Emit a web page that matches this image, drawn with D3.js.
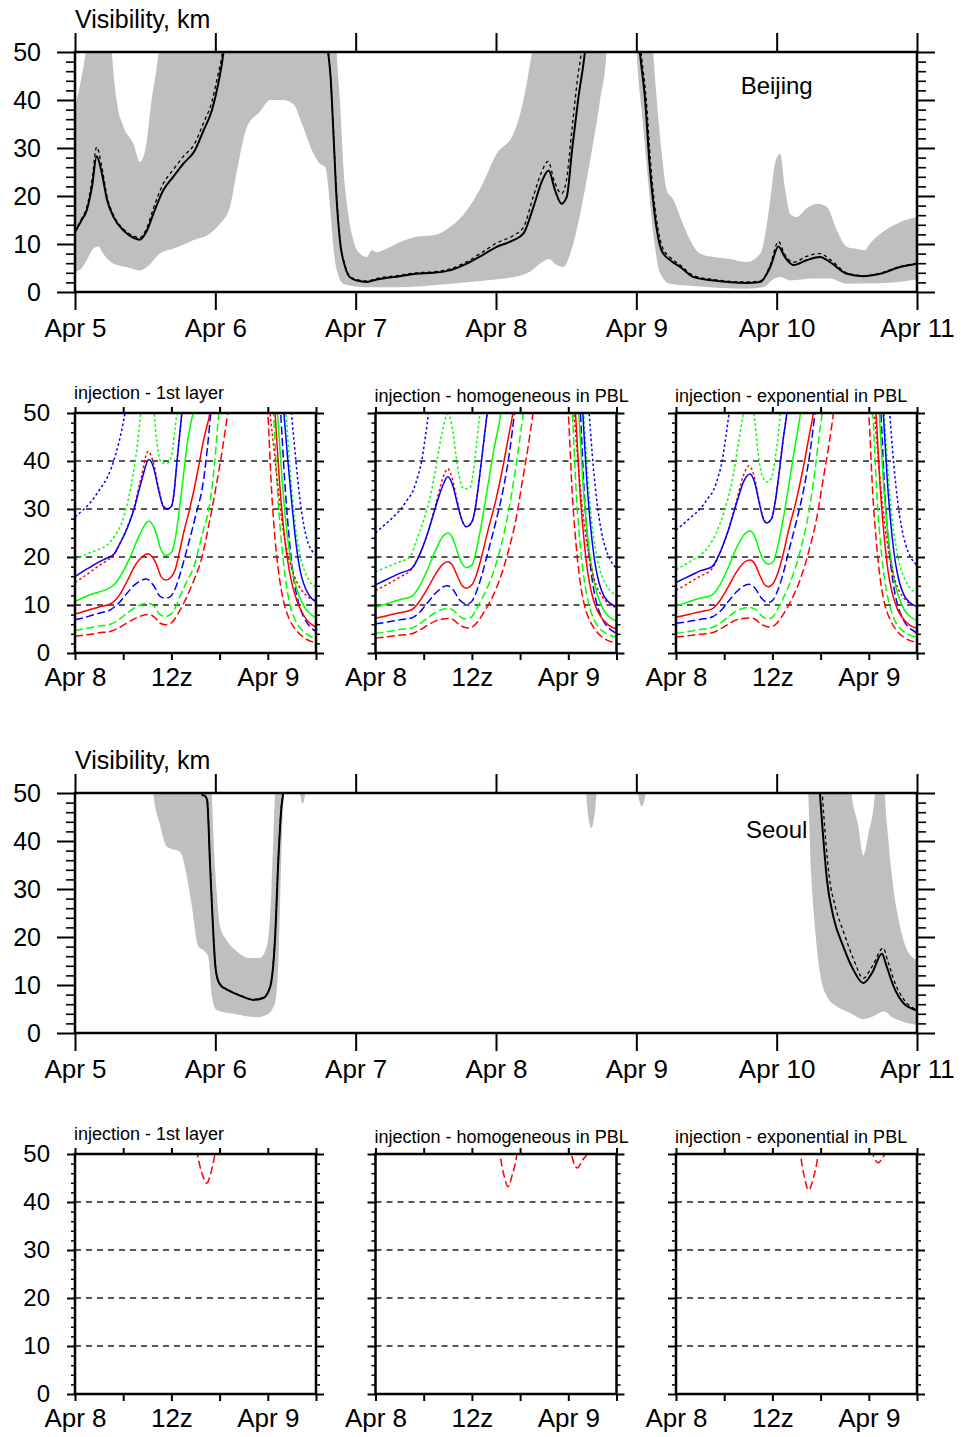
<!DOCTYPE html>
<html>
<head>
<meta charset="utf-8">
<script src="https://cdn.jsdelivr.net/npm/d3@7"></script>
<style>
  body { margin: 0; background: #fff; }
  text { font-family: "Liberation Sans", Arial, Helvetica, sans-serif; }
</style>
</head>
<body>
<div id="chart"></div>
<script>
// ---------------- data ----------------
// hours since Apr 5 00z for the big panels, hours since Apr 8 00z for the small ones
var dayLabels = ["Apr 5", "Apr 6", "Apr 7", "Apr 8", "Apr 9", "Apr 10", "Apr 11"];
var dayHours = [0, 24, 48, 72, 96, 120, 144];
var smallHours = [0, 6, 12, 18, 24, 30];
var smallLabels = ["Apr 8", "", "12z", "", "Apr 9", ""];
var smallTitles = ["injection - 1st layer", "injection - homogeneous in PBL", "injection - exponential in PBL"];

// Beijing, big panel
var bjSolid = [[0,12.5],[1.1,14.9],[2,17],[2.9,21.9],[3.7,28.3],[4.6,24.7],[5.5,19.1],[6.6,15.6],[8.3,12.8],[10,11.3],[11.1,10.9],[12.3,12.8],[13.4,16.3],[15.1,21.2],[16.8,24],[18.5,26.7],[20.5,29.5],[22,33.7],[23.4,37.8],[24.5,43.4],[25.4,50],[26,58],[42.8,58],[43.3,50],[43.7,45],[44.2,33],[44.75,19.1],[45.3,10.8],[46.2,5.2],[47,3.1],[48.2,2.4],[49.9,2.1],[51.6,2.6],[55.6,3.3],[58.4,3.8],[61.3,4],[64.1,4.5],[67,5.9],[69.3,7.4],[72.1,9.4],[75,10.8],[76.7,12.2],[78.4,17.7],[79.8,22.9],[81,25.3],[82.1,21.2],[83.2,18.4],[84.1,19.8],[85,29.5],[86.1,40.6],[87.2,50],[87.8,58],[96,58],[96.6,50],[97.5,40],[98.3,26],[99.2,15.6],[100.3,8.7],[101.8,6.6],[103.5,5.2],[105.8,3.1],[109.2,2.4],[114.9,1.9],[117.2,2.1],[118.9,5.2],[120.3,9.5],[121.4,7.3],[122.9,5.6],[125.1,6.6],[127.4,7.3],[129.1,6.25],[132,3.8],[134.8,3.3],[137.7,3.8],[141.1,5.2],[144,5.9]];
var bjDotted = [[0,12.6],[1.1,15.2],[2,17.6],[2.9,23.2],[3.7,30.2],[4.6,26],[5.5,19.8],[6.6,16],[8.3,13.1],[10,11.7],[11.1,11.3],[12.3,13.4],[13.4,17.4],[15.1,22.6],[16.8,25.5],[18.5,28.2],[20.5,31],[22,35.3],[23.4,39.6],[24.4,45],[25.2,50],[25.8,58],[42.8,58],[43.3,50],[43.7,45],[44.2,33.5],[44.75,19.8],[45.3,11.2],[46.2,5.5],[47,3.3],[48.2,2.6],[49.9,2.3],[51.6,2.8],[55.6,3.5],[58.4,4],[61.3,4.2],[64.1,4.8],[67,6.3],[69.3,8],[72.1,10.2],[75,11.8],[76.7,13.5],[78.4,20],[79.8,25],[80.9,27.2],[82,23],[83.2,20.5],[84,23],[85,34],[86,45],[86.6,50],[87.2,58],[96.1,58],[96.8,50],[97.7,40],[98.5,26],[99.4,15.6],[100.5,9.2],[101.8,7.2],[103.5,5.6],[105.8,3.4],[109.2,2.6],[114.9,2.1],[117.2,2.3],[118.9,5.6],[120.3,10.5],[121.4,7.8],[122.9,6.2],[125.1,7.4],[127.4,8],[129.1,6.8],[132,4],[134.8,3.4],[137.7,3.9],[141.1,5.3],[144,6]];
var bjHigh = [[0,38.5],[1,44],[2,52],[2.5,60],[5.8,60],[6.3,50],[7.1,40],[8.3,34.4],[10,30.9],[11.1,27.1],[12,29.5],[13.1,40],[14,47],[14.5,52],[15,60],[44.4,60],[44.75,50],[45.3,40],[45.9,26],[46.8,15.6],[47.6,10.8],[48.7,8],[49.9,7.3],[50.7,8.7],[51.6,8.3],[52.7,8.7],[55.6,10.4],[58.4,11.5],[61.3,11.8],[64.1,13.5],[67,17],[69.3,21.5],[72.1,28.8],[75,33],[76.7,40],[77.6,46],[78.1,50],[78.6,60],[98.5,60],[98.9,50],[99.5,40],[100.3,29.5],[101.2,21.2],[102.4,19.1],[103.5,15.6],[105.2,10.8],[106.9,8],[109.2,7.3],[112,6.9],[114.9,6.25],[117.2,8],[118.9,19.1],[119.7,26.7],[120.6,28.8],[121.4,21.9],[122.3,16.3],[123.4,15.6],[125.1,17.4],[126.9,18.4],[128.6,17.7],[130.3,12.8],[132,9.4],[133.7,9],[135.1,8.7],[135.7,9.7],[138.5,12.8],[141,14.5],[144,15.6]];
var bjLow = [[0,4.2],[1.1,4.9],[2,6.6],[3.1,9],[4,9.5],[4.8,8],[6.6,5.9],[8.8,5.2],[11.1,4.5],[12.3,5.2],[14.5,8],[16.8,9],[20.2,10.8],[23.1,12.2],[24.8,14.2],[26.5,17.7],[27.7,25.3],[29.4,34.4],[31.6,37.5],[33.4,40],[35.6,40],[37.3,39.2],[39,34.4],[40.8,28.8],[41.9,26.7],[42.8,26],[43.3,22],[43.8,15],[44.3,8],[44.9,4],[45.9,1.7],[47.6,1.2],[49.9,1],[55.6,1],[61.3,1.4],[69.3,2.3],[75,3.1],[77.8,4.2],[79.5,5.9],[81,6.9],[82.4,5.6],[83.5,5.2],[84.7,8],[86.4,16.3],[88.1,27.4],[89.8,40],[90.9,50],[91.3,60],[95.8,60],[96.1,50],[96.9,38],[97.8,26],[98.9,12.2],[100.1,3.8],[101.8,1.7],[106.3,1.2],[114.9,0.7],[117.7,1],[119.4,2.6],[120.6,3.1],[122.3,2.4],[126.3,2.8],[129.1,2.8],[132,1.7],[137.7,1.8],[144,2.6]];

// Seoul, big panel
var seSolid = [[0,60],[21,60],[21.3,52],[21.8,49.6],[22.3,49.3],[22.6,48.5],[23.1,35],[23.6,22],[24,14],[24.5,10.8],[25.2,9.6],[25.9,9.1],[28.2,7.8],[30.5,6.9],[32.2,7.3],[33.4,9.7],[34.2,19.4],[34.8,36.7],[35.3,47],[35.6,50],[36,58],[127,58],[127.4,50],[128,40.2],[128.6,31.9],[129.7,24.2],[131.4,18],[133.1,13.2],[134.8,10.4],[136.3,12.5],[138,16.5],[138.8,13.9],[140,9.7],[141.7,6.2],[144,4.7]];
var seDotted = [[0,60],[21,60],[21.3,52],[21.8,49.6],[22.3,49.3],[22.6,48.5],[23.1,35.5],[23.6,22.5],[24,14.3],[24.5,11],[25.2,9.7],[25.9,9.2],[28.2,7.9],[30.5,7],[32.2,7.4],[33.4,9.9],[34.2,19.8],[34.8,37],[35.3,47.2],[35.6,50],[36,58],[127.4,58],[127.8,50],[128.4,40],[129,32.5],[130,26.5],[131.6,20.5],[133.2,15.2],[134.8,11.4],[136.4,14],[138.2,17.7],[139,15],[140.2,10.5],[141.8,6.9],[144,4.8]];
var seHigh = [[0,60],[23.1,60],[23.4,50],[23.7,40.2],[24.2,29.8],[24.8,22.2],[25.9,19.4],[27.7,17],[29.9,15.6],[31.6,15.6],[32.8,18],[33.6,29.8],[34.2,50],[34.5,60],[132.5,60],[132.8,50],[133.9,43.6],[134.8,37],[135.7,41.5],[136.8,50],[137.1,60],[138.2,60],[138.5,50],[139.1,40.2],[140,29.8],[141.1,22.2],[142.3,17.3],[144,15.2]];
var seLow = [[0,60],[12.8,60],[13.4,50],[14.5,43.6],[15.7,38.8],[18,37.7],[18.8,34.6],[20,26.3],[21.1,18],[22.2,17],[22.8,15.9],[23.4,7.6],[24.2,4.8],[27.1,4],[31.1,3.3],[32.8,3.8],[34.2,6.2],[34.8,15],[35.2,33],[35.5,45],[35.8,51],[36.2,60],[38.2,60],[38.5,50],[38.9,47.8],[39.4,50],[39.8,60],[87,60],[87.4,50],[88.3,42.7],[89.2,50],[89.6,60],[96,60],[96.3,50],[96.9,47.2],[97.6,50],[98,60],[125,60],[125.4,50],[125.9,33.2],[126.5,22.7],[127.4,12.5],[128.6,7.6],[130.3,5.5],[132.5,4.2],[134.8,2.9],[136.5,3.5],[138.3,4.5],[140,3.1],[142.3,2.1],[144,1.7]];

// Beijing, injection - 1st layer
var bj1BlueDot = [[0,28.4],[1,29.8],[2,31.5],[3,33.9],[4,36.5],[5,41],[6,48],[6.5,53],[7,60],[26.4,60],[26.7,55],[27,49],[27.5,40],[28,32],[28.5,26.5],[29,23],[29.5,21.3],[30,20.4]];
var bj1GreenDot = [[0,19.4],[1,20.3],[2,21],[3,21.6],[4,22.5],[5,24.5],[6,28],[7,35],[7.5,40],[8,47],[8.3,52],[8.6,58],[9.6,55],[10,47],[10.4,41.5],[10.8,39.6],[11.5,39.6],[12,41],[12.4,46],[12.8,52],[13.2,60],[25.6,60],[25.9,55],[26.25,50],[26.7,40],[27.2,30],[27.7,23],[28.2,19],[28.8,16.2],[29.4,14.5],[30,13.8]];
var bj1BlueSolid = [[0,15.9],[1,17],[2,18],[3,19],[4,19.8],[4.8,20.5],[5.5,22.5],[6.5,26],[7.3,29.7],[8.3,36],[9.2,40.3],[9.8,38.5],[10.4,34],[11,30.5],[11.5,30],[12,30.5],[12.3,33],[12.7,40],[13.3,50],[13.7,57],[25.7,57],[26,50],[26.5,40],[27,31],[27.5,23],[28.1,16.6],[28.5,14.3],[29,12.4],[29.5,11.3],[30,10.7]];
var bj1RedDot = [[0,14.7],[1,15.8],[2,17],[3,18.2],[4,19.3],[4.8,20.3],[5.5,22.5],[6.5,26.2],[7.3,30],[8.3,37],[9.1,42],[9.7,40],[10.4,34.5],[11,30.5],[11.5,30],[12,30.6],[12.3,33],[12.7,40],[13.3,50],[13.7,57],[24,57],[24.3,50],[24.8,42],[25.3,34],[25.8,27],[26.5,20.5],[27,17.5],[27.5,15.2],[28,13.6],[28.5,12.5],[29,11.7],[29.5,11.2],[30,11]];
var bj1GreenSolid = [[0,10.7],[1,11.5],[2,12.2],[3,12.7],[4,13.3],[5,14.5],[6,17],[7,20.5],[8,24.5],[9.2,27.5],[10,25.5],[10.7,21.5],[11.3,20.3],[12,21],[12.5,24],[13,30],[13.5,37],[14,44],[14.5,48.5],[14.8,51],[15.2,58],[24.9,57],[25.2,50],[25.7,38],[26.2,28],[26.7,21],[27.2,16],[27.7,12.8],[28.2,10.7],[28.8,9],[29.4,8],[30,7.3]];
var bj1RedSolid = [[0,8.1],[1,8.6],[2,9.1],[3,9.6],[4.4,10.2],[5.5,12],[6.5,15],[7.5,18.3],[9.1,20.7],[10,19],[10.8,15.7],[11.3,15.2],[12,15.9],[12.5,17.5],[13,21],[13.5,24.9],[14.2,29.5],[14.8,33.9],[15.4,39],[16,44.3],[16.8,50],[17.3,55],[24.6,57],[24.9,50],[25.4,37],[25.9,27],[26.4,20],[27,14.5],[27.6,11],[28.2,8.7],[28.8,7],[29.4,6],[30,5.4]];
var bj1BlueDash = [[0,6.9],[1,7.3],[2,7.8],[3,8.3],[4.4,9],[5.5,10.5],[6.5,12.5],[7.5,14.3],[8.9,15.4],[9.8,14],[10.6,11.8],[11.3,11.4],[12,12],[12.5,13.5],[13,16],[14,22],[15,28.5],[16,36],[16.5,43],[16.9,50],[17.3,56],[25.3,57],[25.6,50],[26.1,36],[26.6,25],[27.1,17],[27.6,12],[28.1,9],[28.7,6.8],[29.3,5.4],[30,4.5]];
var bj1GreenDash = [[0,4.7],[1,5],[2,5.3],[3,5.6],[4.4,6],[5.5,7],[6.5,8.3],[7.5,9.5],[9,10.4],[9.8,9.8],[10.6,8],[11.3,7.6],[12,8.2],[12.5,9.5],[13,11.5],[13.8,14.5],[14.8,18],[15.8,24.5],[16.9,32.5],[17.4,40],[17.9,50],[18.3,56],[24.4,57],[24.7,50],[25.2,34],[25.7,23],[26.2,15.5],[26.7,10.5],[27.3,7.3],[28,5.3],[28.8,4],[30,3.1]];
var bj1RedDash = [[0,3.5],[1,3.7],[2,3.9],[3,4.2],[4.4,4.5],[5.5,5.3],[6.5,6.3],[7.5,7.2],[9,8],[9.8,7.6],[10.6,6.2],[11.3,5.9],[12,6.3],[12.5,7.3],[13,8.7],[14,12],[15,16],[15.6,18.7],[16.7,27],[17.7,36],[18.4,43],[19,50],[19.4,56],[23.7,57],[24,50],[24.5,33],[25,22],[25.5,15],[26,10.5],[26.7,7],[27.5,4.8],[28.5,3.2],[30,2.1]];

// Beijing, injection - homogeneous in PBL
var bj2BlueDot = [[0,25],[1,26.5],[2,28],[3,29.7],[4,32],[4.7,33.9],[5.3,37],[5.75,40],[6.2,45],[6.6,50],[7,56],[26.3,57],[26.6,50],[27.1,39],[27.6,31],[28.1,25.5],[28.6,22],[29.2,19.5],[30,17.6]];
var bj2GreenDot = [[0,16.9],[1,17.6],[2,18.3],[3,19],[4.3,20],[5,23],[6,27.7],[7,34],[7.6,39.4],[8.3,46],[9,49.8],[9.6,46.5],[10.2,39],[10.6,35.5],[11,34.2],[11.8,34.5],[12.2,38],[12.6,44],[13,50],[13.4,56],[25.6,57],[25.9,50],[26.4,37],[26.9,27.5],[27.4,21.5],[27.9,17.5],[28.5,14.8],[29.2,13],[30,12.1]];
var bj2BlueSolid = [[0,14.2],[1,15],[2,15.8],[3,16.6],[4.5,17.6],[5.5,20.5],[6.5,25],[7.5,30.5],[8.4,35],[9,36.7],[9.6,35],[10.2,31],[10.8,27.5],[11.3,26.3],[12,27.3],[12.4,30],[12.9,36],[13.4,43],[13.9,50],[14.3,56],[25.5,57],[25.8,50],[26.3,36],[26.8,26],[27.3,19],[27.8,14.8],[28.4,12],[29.1,10.5],[30,9.7]];
var bj2RedDot = [[0,13],[1,13.9],[2,14.8],[3,15.8],[4.5,17.5],[5.5,20.5],[6.5,25],[7.5,31],[8.4,36.5],[9,38.4],[9.6,36],[10.2,31.5],[10.8,27.5],[11.3,26.3],[12,27.3],[12.4,30],[12.9,36],[13.4,43],[13.9,50],[14.3,56],[24.4,57],[24.7,50],[25.2,40],[25.7,31],[26.3,23],[26.9,17.5],[27.5,14],[28.2,11.8],[29,10.3],[30,9.5]];
var bj2GreenSolid = [[0,9.5],[1,10],[2,10.6],[3,11.1],[4.5,11.8],[5.5,14],[6.5,17.5],[7.5,21.5],[8.4,24.3],[9,25],[9.6,24],[10.2,21],[10.8,18.5],[11.3,17.8],[12,18.3],[12.5,21],[13.2,27],[14,35],[14.8,43],[15.6,50],[16,56],[25,57],[25.3,50],[25.8,36],[26.3,26],[26.8,19],[27.3,14.2],[27.9,10.8],[28.5,8.7],[29.2,7.4],[30,6.6]];
var bj2RedSolid = [[0,7.3],[1,7.6],[2,8],[3,8.4],[4.5,9],[5.5,10.8],[6.5,13.5],[7.5,16.5],[8.4,18.5],[9,19],[9.6,18.2],[10.2,16],[10.8,14],[11.3,13.5],[12,14.2],[12.5,16],[13.2,20],[14,25.5],[15,32],[16,40],[16.6,45.5],[17.1,50],[17.5,56],[24.6,57],[24.9,50],[25.4,35],[25.9,24.5],[26.4,17],[26.9,12.5],[27.5,9.3],[28.2,7.2],[29,5.8],[30,5]];
var bj2BlueDash = [[0,6.1],[1,6.3],[2,6.6],[3,6.9],[4.5,7.3],[5.5,8.5],[6.5,10.5],[7.5,12.5],[8.9,14],[9.6,13.3],[10.5,11],[11.3,10.2],[12,10.8],[12.5,12.5],[13.2,16],[14,21],[15,27.5],[16,35],[16.7,42],[17.3,50],[17.7,56],[25.2,57],[25.5,50],[26,33],[26.5,22],[27,15],[27.5,10.5],[28.1,7.6],[28.8,5.6],[29.4,4.7],[30,4.1]];
var bj2GreenDash = [[0,4.1],[1,4.3],[2,4.6],[3,4.9],[4.5,5.2],[5.5,6.1],[6.5,7.3],[7.5,8.5],[9,9.3],[9.6,9],[10.5,7.6],[11.3,7.1],[12,7.6],[12.5,9],[13.3,11.5],[14.5,16],[15.5,21.5],[16.5,29],[17.4,38],[18,45],[18.4,50],[18.8,56],[24.2,57],[24.5,50],[25,33],[25.5,22],[26,15],[26.5,10.5],[27.1,7.3],[27.8,5.3],[28.8,4],[30,3.3]];
var bj2RedDash = [[0,3.1],[1,3.3],[2,3.5],[3,3.7],[4.5,4],[5.5,4.8],[6.5,5.8],[7.5,6.7],[9,7.2],[9.6,7],[10.5,5.8],[11.5,5.2],[12.2,5.6],[12.8,6.7],[13.5,8.5],[14.5,11.5],[15.5,15.5],[16.5,21],[17.5,28],[18.3,36],[19,43],[19.6,50],[20,56],[23.7,57],[24,50],[24.5,33],[25,22],[25.5,14.5],[26,10],[26.7,6.7],[27.5,4.5],[28.5,3],[30,2.1]];

// Beijing, injection - exponential in PBL
var bj3BlueDot = [[0,25.6],[1,27],[2,28.5],[3,30],[4,32.3],[4.7,34],[5.3,37],[5.75,40],[6.2,45],[6.6,50],[7,56],[26.3,57],[26.6,50],[27.1,39.5],[27.6,31.5],[28.1,26],[28.6,22.5],[29.2,20],[30,18.3]];
var bj3GreenDot = [[0,17.4],[1,18.3],[2,19.3],[3,20.4],[4,22],[5,25],[6,29.5],[7,36],[7.8,44],[8.4,50],[9,54],[9.7,50],[10.2,42],[10.7,37],[11.3,35.6],[11.9,36.5],[12.3,40],[12.7,45],[13,50],[13.4,56],[25.6,57],[25.9,50],[26.4,37.5],[26.9,28],[27.4,22],[27.9,18],[28.5,15.3],[29.2,13.4],[30,12.4]];
var bj3BlueSolid = [[0,14.7],[1,15.5],[2,16.3],[3,17.1],[4.5,18],[5.5,21],[6.5,25.5],[7.5,31],[8.5,36],[9.2,37.3],[9.8,35.5],[10.4,31],[10.9,27.8],[11.25,27.1],[11.9,28],[12.3,31],[12.8,37],[13.3,44],[13.8,50],[14.2,56],[25.5,57],[25.8,50],[26.3,36],[26.8,26],[27.3,19],[27.8,14.8],[28.4,12],[29.1,10.5],[30,9.7]];
var bj3RedDot = [[0,13.1],[1,14],[2,15],[3,16],[4.5,17.6],[5.5,21],[6.5,25.5],[7.5,31.5],[8.5,37.5],[9.1,39],[9.7,37],[10.3,32],[10.9,28],[11.25,27.1],[11.9,28],[12.3,31],[12.8,37],[13.3,44],[13.8,50],[14.2,56],[24.4,57],[24.7,50],[25.2,40],[25.7,31],[26.3,23],[26.9,17.5],[27.5,14],[28.2,11.8],[29,10.4],[30,9.7]];
var bj3GreenSolid = [[0,9.8],[1,10.3],[2,10.9],[3,11.4],[4.5,12.1],[5.5,14.3],[6.5,17.8],[7.5,21.8],[8.5,24.7],[9.2,25.4],[9.8,24.3],[10.4,21.3],[11,19],[11.5,18.5],[12.1,19],[12.6,21.8],[13.3,27.5],[14,34.5],[14.8,43],[15.5,50],[15.9,56],[25,57],[25.3,50],[25.8,36],[26.3,26],[26.8,19],[27.3,14.2],[27.9,10.9],[28.5,8.8],[29.2,7.5],[30,6.8]];
var bj3RedSolid = [[0,7.5],[1,7.8],[2,8.2],[3,8.6],[4.5,9.2],[5.5,11],[6.5,13.8],[7.5,16.8],[8.5,18.9],[9.2,19.4],[9.8,18.6],[10.4,16.3],[11,14.3],[11.5,13.8],[12.1,14.5],[12.6,16.3],[13.3,20.3],[14,25.5],[15,32],[16,40],[16.6,45.5],[17.1,50],[17.5,56],[24.6,57],[24.9,50],[25.4,35],[25.9,24.5],[26.4,17],[26.9,12.6],[27.5,9.4],[28.2,7.3],[29,5.9],[30,5.1]];
var bj3BlueDash = [[0,6.2],[1,6.4],[2,6.7],[3,7],[4.5,7.5],[5.5,8.7],[6.5,10.7],[7.5,12.7],[9.1,14.3],[9.8,13.6],[10.7,11.3],[11.5,10.5],[12.1,11.1],[12.6,12.8],[13.3,16.3],[14,21],[15,27.5],[16,35],[16.7,42],[17.3,50],[17.7,56],[25.2,57],[25.5,50],[26,33],[26.5,22],[27,15],[27.5,10.5],[28.1,7.6],[28.8,5.6],[29.4,4.8],[30,4.1]];
var bj3GreenDash = [[0,4.1],[1,4.3],[2,4.6],[3,4.9],[4.5,5.3],[5.5,6.2],[6.5,7.5],[7.5,8.7],[9.1,9.5],[9.8,9.2],[10.7,7.7],[11.5,7.1],[12.1,7.6],[12.6,9],[13.4,11.6],[14.5,16],[15.5,21.5],[16.5,29],[17.3,38],[17.8,45],[18.2,50],[18.6,56],[24.2,57],[24.5,50],[25,33],[25.5,22],[26,15],[26.5,10.5],[27.1,7.3],[27.8,5.3],[28.8,4],[30,3.3]];
var bj3RedDash = [[0,3.3],[1,3.5],[2,3.7],[3,3.9],[4.5,4.2],[5.5,5],[6.5,6],[7.5,6.9],[9.1,7.3],[9.8,7.1],[10.7,5.9],[11.6,5.4],[12.3,5.8],[12.9,6.9],[13.6,8.7],[14.5,11.5],[15.5,15.5],[16.5,21],[17.5,28],[18.3,36],[19,43],[19.6,50],[20,56],[23.7,57],[24,50],[24.5,33],[25,22],[25.5,14.5],[26,10],[26.7,6.8],[27.5,4.6],[28.5,3.1],[30,2.2]];

// Seoul, only the red dashed member drops under 50 km
var se1RedDash = [[0,60],[14.6,60],[15.25,50],[15.8,46],[16.4,43.9],[16.9,46],[17.4,50],[18,60],[30,60]];
var se2RedDash = [[0,60],[14.9,60],[15.5,50],[16,45.5],[16.5,43.2],[17,45.5],[17.6,50],[18.2,60],[23.8,60],[24.4,50],[25.1,47.1],[25.8,48.8],[26.5,50.5],[27.1,60],[30,60]];
var se3RedDash = [[0,60],[14.9,60],[15.5,50],[16,45],[16.5,42.5],[17.1,45],[17.7,50],[18.3,60],[23.9,60],[24.5,50],[25.2,48.2],[25.7,49.2],[26.1,50.5],[26.6,60],[30,60]];

// ---------------- drawing ----------------
var svgWidth = 962;
var svgHeight = 1437;
var grey = "#bfbfbf";
var fontFam = "'Liberation Sans', Arial, Helvetica, sans-serif";
var red = "#ff0000", green = "#00ff00", blue = "#0000ff";
var dashLong = "8,3.5", dashDot = "2.5,2.5";

var svg = d3.select("#chart")
  .append("svg")
  .attr("width", svgWidth)
  .attr("height", svgHeight);

svg.append("rect").attr("width", svgWidth).attr("height", svgHeight).attr("fill", "#fff");

var majorY = d3.range(0, 51, 10);
var minorY = d3.range(2, 50, 2).filter(v => v % 10 !== 0);

function styleAxis(sel, fs, sw) {
  sel.attr("font-size", fs).attr("font-family", fontFam);
  sel.select(".domain").remove();
  sel.selectAll(".tick line").attr("stroke-width", sw);
}

function drawBig(top, id, lo, hi, solid, dotted, place, placeDy) {
  var x = d3.scaleLinear().domain([0, 144]).range([75, 917]);
  var y = d3.scaleLinear().domain([0, 50]).range([top + 240, top]);

  svg.append("clipPath").attr("id", id)
    .append("rect").attr("x", 75).attr("y", top).attr("width", 842).attr("height", 240);
  var plot = svg.append("g").attr("clip-path", "url(#" + id + ")");

  // spread of the ensemble: grey under the max, white under the min
  var area = d3.area().curve(d3.curveMonotoneX)
    .x(d => x(d[0])).y0(y(0)).y1(d => y(d[1]));
  plot.append("path").datum(hi).attr("d", area).attr("fill", grey);
  plot.append("path").datum(lo).attr("d", area).attr("fill", "#fff");

  var line = d3.line().curve(d3.curveMonotoneX).x(d => x(d[0])).y(d => y(d[1]));
  plot.append("path").datum(dotted).attr("d", line)
    .attr("fill", "none").attr("stroke", "#000").attr("stroke-width", 1.3)
    .attr("stroke-dasharray", "3.5,3");
  plot.append("path").datum(solid).attr("d", line)
    .attr("fill", "none").attr("stroke", "#000").attr("stroke-width", 2);

  // axes
  svg.append("g").attr("transform", "translate(75,0)")
    .call(d3.axisLeft(y).tickValues(majorY).tickSize(18).tickPadding(16))
    .call(styleAxis, 25, 2);
  svg.append("g").attr("transform", "translate(75,0)")
    .call(d3.axisLeft(y).tickValues(minorY).tickSize(9).tickFormat(""))
    .call(styleAxis, 25, 1.6);
  svg.append("g").attr("transform", "translate(917,0)")
    .call(d3.axisRight(y).tickValues(majorY).tickSize(18).tickFormat(""))
    .call(styleAxis, 25, 2);
  svg.append("g").attr("transform", "translate(917,0)")
    .call(d3.axisRight(y).tickValues(minorY).tickSize(9).tickFormat(""))
    .call(styleAxis, 25, 1.6);
  svg.append("g").attr("transform", "translate(0," + (top + 240) + ")")
    .call(d3.axisBottom(x).tickValues(dayHours).tickSize(18).tickPadding(9)
      .tickFormat((d, i) => dayLabels[i]))
    .call(styleAxis, 26, 2);
  svg.append("g").attr("transform", "translate(0," + top + ")")
    .call(d3.axisTop(x).tickValues(dayHours).tickSize(19).tickFormat(""))
    .call(styleAxis, 25, 2);

  svg.append("rect").attr("x", 75).attr("y", top).attr("width", 842).attr("height", 240)
    .attr("fill", "none").attr("stroke", "#000").attr("stroke-width", 2.5);

  svg.append("text").attr("x", 75).attr("y", top - 24)
    .attr("font-size", 25).text("Visibility, km");
  svg.append("text").attr("x", x(120)).attr("y", top + placeDy)
    .attr("text-anchor", "middle").attr("font-size", 24).text(place);
}

function drawSmall(x0, top, id, title, titleDy, series, showY) {
  var x = d3.scaleLinear().domain([0, 30]).range([x0, x0 + 241]);
  var y = d3.scaleLinear().domain([0, 50]).range([top + 240, top]);

  svg.append("clipPath").attr("id", id)
    .append("rect").attr("x", x0).attr("y", top).attr("width", 241).attr("height", 240);

  svg.append("g").selectAll("line")
    .data([10, 20, 30, 40])
    .enter()
    .append("line")
    .attr("x1", x0).attr("x2", x0 + 241)
    .attr("y1", d => y(d)).attr("y2", d => y(d))
    .attr("stroke", "#222").attr("stroke-width", 1.3).attr("stroke-dasharray", "6,5");

  var plot = svg.append("g").attr("clip-path", "url(#" + id + ")");
  var line = d3.line().curve(d3.curveMonotoneX).x(d => x(d[0])).y(d => y(d[1]));
  plot.selectAll("path")
    .data(series)
    .enter()
    .append("path")
    .attr("d", d => line(d.values))
    .attr("fill", "none")
    .attr("stroke", d => d.color)
    .attr("stroke-width", 1.5)
    .attr("stroke-dasharray", d => d.dash);

  svg.append("g").attr("transform", "translate(" + x0 + ",0)")
    .call(d3.axisLeft(y).tickValues(majorY).tickSize(8).tickPadding(17)
      .tickFormat(showY ? d3.format("d") : ""))
    .call(styleAxis, 24, 2);
  svg.append("g").attr("transform", "translate(" + x0 + ",0)")
    .call(d3.axisLeft(y).tickValues(minorY).tickSize(4).tickFormat(""))
    .call(styleAxis, 24, 1.5);
  svg.append("g").attr("transform", "translate(" + (x0 + 241) + ",0)")
    .call(d3.axisRight(y).tickValues(majorY).tickSize(8).tickFormat(""))
    .call(styleAxis, 24, 2);
  svg.append("g").attr("transform", "translate(" + (x0 + 241) + ",0)")
    .call(d3.axisRight(y).tickValues(minorY).tickSize(4).tickFormat(""))
    .call(styleAxis, 24, 1.5);
  svg.append("g").attr("transform", "translate(0," + (top + 240) + ")")
    .call(d3.axisBottom(x).tickValues(smallHours).tickSize(7).tickPadding(8)
      .tickFormat((d, i) => smallLabels[i]))
    .call(styleAxis, 26, 2);
  svg.append("g").attr("transform", "translate(0," + top + ")")
    .call(d3.axisTop(x).tickValues(smallHours).tickSize(6).tickFormat(""))
    .call(styleAxis, 25, 2);

  svg.append("rect").attr("x", x0).attr("y", top).attr("width", 241).attr("height", 240)
    .attr("fill", "none").attr("stroke", "#000").attr("stroke-width", 2.5);

  svg.append("text").attr("x", x0 - 1).attr("y", top - titleDy)
    .attr("font-size", 18).text(title);
}

function nine(rs, gs, bs, rdot, gdot, bdot, rdash, gdash, bdash) {
  return [
    {values: rdash, color: red, dash: dashLong},
    {values: gdash, color: green, dash: dashLong},
    {values: bdash, color: blue, dash: dashLong},
    {values: rs, color: red, dash: null},
    {values: gs, color: green, dash: null},
    {values: gdot, color: green, dash: dashDot},
    {values: bdot, color: blue, dash: dashDot},
    {values: rdot, color: red, dash: dashDot},
    {values: bs, color: blue, dash: null}
  ];
}

var smallX = [75, 375.5, 676];
var titleDy = [14, 11, 11];

drawBig(52, "clipBj", bjLow, bjHigh, bjSolid, bjDotted, "Beijing", 42);

var bjSeries = [
  nine(bj1RedSolid, bj1GreenSolid, bj1BlueSolid, bj1RedDot, bj1GreenDot, bj1BlueDot, bj1RedDash, bj1GreenDash, bj1BlueDash),
  nine(bj2RedSolid, bj2GreenSolid, bj2BlueSolid, bj2RedDot, bj2GreenDot, bj2BlueDot, bj2RedDash, bj2GreenDash, bj2BlueDash),
  nine(bj3RedSolid, bj3GreenSolid, bj3BlueSolid, bj3RedDot, bj3GreenDot, bj3BlueDot, bj3RedDash, bj3GreenDash, bj3BlueDash)
];
bjSeries.forEach(function(s, i) {
  drawSmall(smallX[i], 413, "clipBjS" + i, smallTitles[i], titleDy[i], s, i === 0);
});

drawBig(793, "clipSe", seLow, seHigh, seSolid, seDotted, "Seoul", 45);

var seSeries = [se1RedDash, se2RedDash, se3RedDash];
seSeries.forEach(function(s, i) {
  drawSmall(smallX[i], 1154, "clipSeS" + i, smallTitles[i], titleDy[i],
    [{values: s, color: red, dash: dashLong}], i === 0);
});
</script>
</body>
</html>
